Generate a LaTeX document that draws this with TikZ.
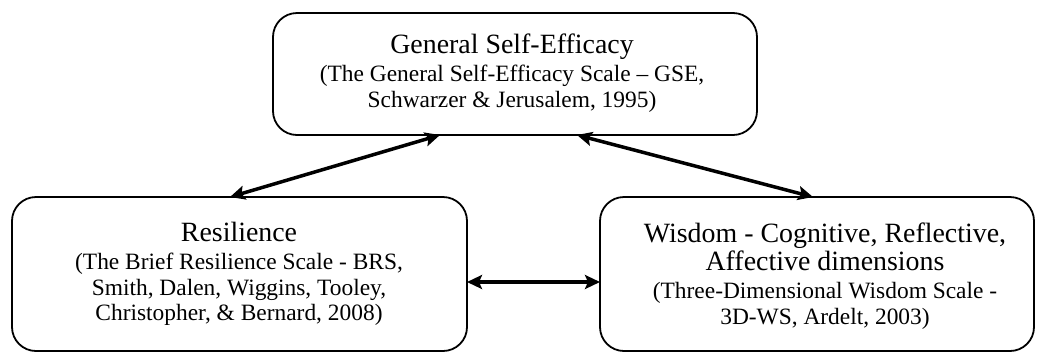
\documentclass[tikz,border=0pt]{standalone}
\usepackage{fontspec}
\setmainfont{Liberation Serif}
\usetikzlibrary{arrows.meta}
\newcommand\ttlfont{\fontsize{28}{28}\selectfont}
\newcommand\sbtfont{\fontsize{23.5}{25.5}\selectfont}
\begin{document}
\begin{tikzpicture}[x=1bp,y=-1bp,
  box/.style={draw, line width=1.8bp, rounded corners=24bp, inner sep=0pt, outer sep=0pt},
  lbl/.style={align=center, font=\sbtfont, inner sep=0pt},
  arr/.style={line width=3.5bp, {Stealth[length=15bp,width=14bp,inset=3bp]}-{Stealth[length=15bp,width=14bp,inset=3bp]}}]
\useasboundingbox (0,0) rectangle (1038,359);
\node[box, minimum width=484bp, minimum height=122bp] (gse) at (515,74) {};
\node[box, minimum width=455bp, minimum height=154bp] (res) at (239.5,274) {};
\node[box, minimum width=434bp, minimum height=154bp] (wis) at (817,274) {};
\node[lbl] (gset) at (512,73) {{\ttlfont General Self-Efficacy}\\[3bp]
  (The General Self-Efficacy Scale – GSE,\\ Schwarzer \& Jerusalem, 1995)};
\node[lbl] (rest) at (239,274) {{\ttlfont Resilience}\\[3bp]
  (The Brief Resilience Scale - BRS,\\ Smith, Dalen, Wiggins, Tooley,\\ Christopher, \& Bernard, 2008)};
\node[lbl] (wist) at (825,276) {{\ttlfont Wisdom - Cognitive, Reflective,}\\[1.5bp]
  {\ttlfont Affective dimensions}\\[3bp]
  (Three-Dimensional Wisdom Scale -\\ 3D-WS, Ardelt, 2003)};
\draw[arr] ([xshift=218bp]res.north west) -- ([xshift=167bp]gse.south west);
\draw[arr] ([xshift=304bp]gse.south west) -- ([xshift=213bp]wis.north west);
\draw[arr] ([yshift=-8bp]res.east) -- ([yshift=-8bp]wis.west);
\end{tikzpicture}
\end{document}
